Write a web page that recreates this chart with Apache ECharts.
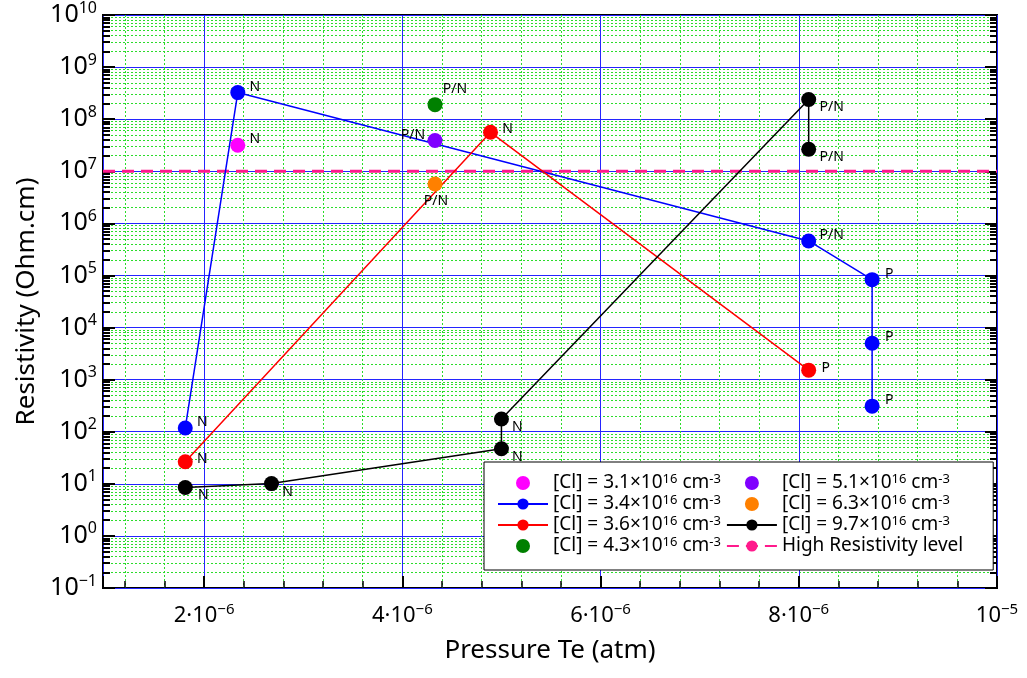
<!DOCTYPE html>
<html>
<head>
<meta charset="utf-8">
<script src="https://cdn.jsdelivr.net/npm/echarts@6/dist/echarts.min.js"></script>
<style>
  html, body { margin: 0; padding: 0; background: #fff; }
  #chart { width: 1027px; height: 678px; }
</style>
</head>
<body>
<div id="chart"></div>
<script>
// Resistivity of Cl-doped samples against Te partial pressure, one series per [Cl] level
const clLevels = ['3.1', '3.4', '3.6', '4.3', '5.1', '6.3', '9.7'];

const cl31Pressure = [2.34e-6];
const cl31Resistivity = [3.15e7];
const cl31Type = ['N'];

const cl34Pressure = [1.81e-6, 2.34e-6, 8.10e-6, 8.74e-6, 8.74e-6, 8.74e-6];
const cl34Resistivity = [118, 3.24e8, 4.6e5, 8.3e4, 5.0e3, 3.1e2];
const cl34Type = ['N', 'N', 'P/N', 'P', 'P', 'P'];

const cl36Pressure = [1.81e-6, 4.89e-6, 8.10e-6];
const cl36Resistivity = [26.6, 5.6e7, 1.52e3];
const cl36Type = ['N', 'N', 'P'];

const cl43Pressure = [4.33e-6];
const cl43Resistivity = [1.9e8];
const cl43Type = ['P/N'];

const cl51Pressure = [4.33e-6];
const cl51Resistivity = [3.9e7];
const cl51Type = ['P/N'];

const cl63Pressure = [4.33e-6];
const cl63Resistivity = [5.7e6];
const cl63Type = ['P/N'];

const cl97Pressure = [1.81e-6, 2.68e-6, 5.0e-6, 5.0e-6, 8.10e-6, 8.10e-6];
const cl97Resistivity = [8.5, 10.1, 47, 176, 2.38e8, 2.64e7];
const cl97Type = ['N', 'N', 'N', 'N', 'P/N', 'P/N'];

const highResistivityLevel = 1e7;
const pressureRange = [0.98e-6, 1e-5];
const resistivityRange = [1e-1, 1e10];

const FONT = 'Noto Sans';
const GRID_GREEN = '#2bdc2b';
const GRID_BLUE = '#2424ff';

// where each conduction-type tag sits relative to its marker
const tagOffsets = {
  cl31: [[17, -6]],
  cl34: [[17, -6], [17, -6], [23, -6], [17, -6], [17, -6], [17, -6]],
  cl36: [[17, -3], [17, -3], [17, -2]],
  cl43: [[20, -16]],
  cl51: [[-22, -5]],
  cl63: [[1, 17]],
  cl97: [[18, 8], [16, 8], [16, 8], [16, 8], [23, 7], [23, 8]]
};

function legendName(level) {
  return '[Cl] = ' + level + '×10{s|16} cm{s|-3}';
}

function points(pressure, resistivity, types, offsets) {
  return pressure.map((p, i) => ({
    value: [p, resistivity[i]],
    label: { formatter: types[i], offset: offsets[i] }
  }));
}

const tagLabel = {
  show: true,
  position: 'inside',
  color: '#000',
  fontSize: 14,
  fontFamily: FONT
};

function seriesFor(level, color, pressure, resistivity, types, offsets, joined) {
  return {
    name: legendName(level),
    type: joined ? 'line' : 'scatter',
    data: points(pressure, resistivity, types, offsets),
    symbol: 'circle',
    symbolSize: 15,
    itemStyle: { color: color, opacity: 1 },
    lineStyle: joined ? { color: color, width: 1.5 } : undefined,
    label: tagLabel,
    emphasis: { disabled: true },
    animation: false,
    z: 3
  };
}

function powerLabel(exp) {
  const e = exp < 0 ? '−' + Math.abs(exp) : String(exp);
  return '{b|10}{p|' + e + '}';
}

const sideTicks = {
  axisTick: { show: true, inside: true, length: 12, lineStyle: { color: '#000', width: 2 } },
  minorTick: { show: true, splitNumber: 9, length: 7, lineStyle: { color: '#000', width: 2 } }
};

const chart = echarts.init(document.getElementById('chart'), null, { renderer: 'canvas' });

chart.setOption({
  backgroundColor: '#fff',
  animation: false,
  grid: {
    left: 103, top: 12, width: 894, height: 576,
    show: true, borderColor: '#000', borderWidth: 2, backgroundColor: 'transparent'
  },
  legend: {
    orient: 'vertical',
    left: 484, top: 462,
    height: 84,
    padding: [11, 26, 14, 13],
    itemGap: 1,
    itemWidth: 50,
    itemHeight: 14,
    backgroundColor: '#fff',
    borderColor: '#000',
    borderWidth: 1,
    borderRadius: 0,
    textStyle: {
      fontSize: 19, fontFamily: FONT, color: '#000', lineHeight: 20,
      padding: [0, 4, 0, 0],
      rich: { s: { fontSize: 13, fontFamily: FONT, color: '#000', verticalAlign: 'top', lineHeight: 20 } }
    },
    data: clLevels.map(legendName).concat(['High Resistivity level'])
  },
  xAxis: {
    type: 'value',
    min: pressureRange[0],
    max: pressureRange[1],
    splitNumber: 5,
    name: 'Pressure Te (atm)',
    nameLocation: 'middle',
    nameGap: 50,
    nameTextStyle: { fontSize: 26, fontFamily: FONT, color: '#000' },
    axisLine: { show: false },
    axisTick: { show: true, inside: true, length: 12, lineStyle: { color: '#000', width: 2 } },
    minorTick: { show: true, splitNumber: 5, length: 7, lineStyle: { color: '#000', width: 1.5 } },
    splitLine: { show: true, lineStyle: { color: GRID_BLUE, width: 1 } },
    minorSplitLine: { show: true, lineStyle: { color: GRID_GREEN, width: 1, type: [2, 2] } },
    axisLabel: {
      showMinLabel: false,
      margin: 14,
      formatter: v => {
        const m = Math.round(v * 1e6);
        if (m === 10) return '{b|10}{p|−5}';
        return '{b|' + m + '·10}{p|−6}';
      },
      rich: {
        b: { fontSize: 22, fontFamily: FONT, color: '#000', lineHeight: 28 },
        p: { fontSize: 15, fontFamily: FONT, color: '#000', verticalAlign: 'top', lineHeight: 28 }
      }
    }
  },
  yAxis: [Object.assign({
    type: 'log',
    logBase: 10,
    min: resistivityRange[0],
    max: resistivityRange[1],
    interval: 1,
    name: 'Resistivity (Ohm.cm)',
    nameLocation: 'middle',
    nameGap: 60,
    nameTextStyle: { fontSize: 26, fontFamily: FONT, color: '#000' },
    axisLine: { show: false },
    splitLine: { show: true, lineStyle: { color: GRID_BLUE, width: 1 } },
    minorSplitLine: { show: true, lineStyle: { color: GRID_GREEN, width: 1, type: [2, 2] } },
    axisLabel: {
      margin: 6,
      formatter: v => powerLabel(Math.round(Math.log10(v))),
      rich: {
        b: { fontSize: 25, fontFamily: FONT, color: '#000', lineHeight: 30 },
        p: { fontSize: 16, fontFamily: FONT, color: '#000', verticalAlign: 'top', lineHeight: 30 }
      }
    }
  }, sideTicks), Object.assign({
    type: 'log',
    logBase: 10,
    min: resistivityRange[0],
    max: resistivityRange[1],
    interval: 1,
    position: 'right',
    axisLine: { show: false },
    splitLine: { show: false },
    axisLabel: { show: false }
  }, sideTicks)],
  series: [
    seriesFor(clLevels[0], '#ff00ff', cl31Pressure, cl31Resistivity, cl31Type, tagOffsets.cl31, false),
    seriesFor(clLevels[1], '#0000ff', cl34Pressure, cl34Resistivity, cl34Type, tagOffsets.cl34, true),
    seriesFor(clLevels[2], '#ff0000', cl36Pressure, cl36Resistivity, cl36Type, tagOffsets.cl36, true),
    seriesFor(clLevels[3], '#008000', cl43Pressure, cl43Resistivity, cl43Type, tagOffsets.cl43, false),
    seriesFor(clLevels[4], '#8000ff', cl51Pressure, cl51Resistivity, cl51Type, tagOffsets.cl51, false),
    seriesFor(clLevels[5], '#ff8000', cl63Pressure, cl63Resistivity, cl63Type, tagOffsets.cl63, false),
    seriesFor(clLevels[6], '#000000', cl97Pressure, cl97Resistivity, cl97Type, tagOffsets.cl97, true),
    {
      name: 'High Resistivity level',
      type: 'line',
      data: [[pressureRange[0], highResistivityLevel], [pressureRange[1], highResistivityLevel]],
      symbol: 'none',
      lineStyle: { color: '#ff1a8c', width: 3, type: [12, 7] },
      itemStyle: { color: '#ff1a8c' },
      emphasis: { disabled: true },
      silent: true,
      z: 2
    }
  ]
});
</script>
</body>
</html>
